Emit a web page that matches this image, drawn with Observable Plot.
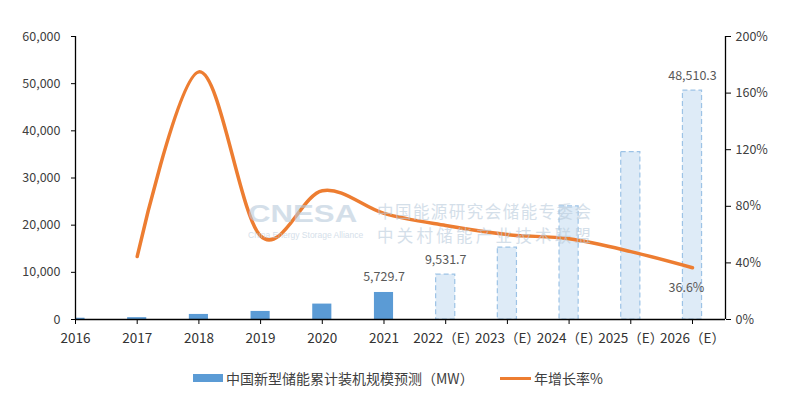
<!DOCTYPE html>
<html><head><meta charset="utf-8">
<script src="https://cdn.jsdelivr.net/npm/d3@7"></script>
<script src="https://cdn.jsdelivr.net/npm/@observablehq/plot@0.6"></script>
<style>
body{margin:0;background:#fff;font-family:"Noto Sans CJK SC","Noto Sans",sans-serif;}
#wrap{position:relative;width:788px;height:394px;overflow:hidden;}
#chart{position:absolute;left:0;top:0;}
.leg{position:absolute;font-size:14px;color:#404040;line-height:16px;white-space:nowrap;}
.sw{position:absolute;}
#wm{position:absolute;left:0;top:0;pointer-events:none;opacity:0.6;}
.wmt{position:absolute;white-space:nowrap;color:#b9cbdc;line-height:1;}
.wmc{position:absolute;color:#b9cbdc;width:214px;font-size:16.5px;line-height:24px;text-align:justify;text-align-last:justify;}
</style></head><body>
<div id="wrap">
  <div id="chart"></div>
  <div class="sw" style="left:193px;top:374px;width:30px;height:8px;background:#5B9BD5"></div>
  <div class="leg" style="left:226px;top:370px;">中国新型储能累计装机规模预测（MW）</div>
  <div class="sw" style="left:500px;top:377px;width:31px;height:3px;background:#ED7D31"></div>
  <div class="leg" style="left:534px;top:370px;">年增长率%</div>
  <div id="wm">
    <div class="wmt" style="left:248px;top:202px;font-size:24px;font-weight:bold;font-family:'Liberation Sans',sans-serif;transform:scaleX(1.3);transform-origin:left top;">CNESA</div>
    <div class="wmt" style="left:248px;top:231px;font-size:8.5px;font-family:'Liberation Sans',sans-serif;">China Energy Storage Alliance</div>
    <div class="wmc" style="left:377px;top:199px;">中国能源研究会储能专委会<br>中关村储能产业技术联盟</div>
  </div>
</div>
<script>
const years = ["2016","2017","2018","2019","2020","2021","2022（E）","2023（E）","2024（E）","2025（E）","2026（E）"];
const capacity = [270, 390, 1073, 1710, 3269, 5729.7, 9531.7, 15250, 24000, 35500, 48510.3];
const growth = [null, 44.5, 175, 59, 91, 75, 66.4, 60, 57, 48, 36.6];
const isForecast = [false,false,false,false,false,false,true,true,true,true,true];
const barLabels = [null,null,null,null,null,"5,729.7","9,531.7",null,null,null,"48,510.3"];
const lineLabels = [null,null,null,null,null,null,null,null,null,null,"36.6%"];
const leftTicks = [0,10000,20000,30000,40000,50000,60000];
const rightTicks = [0,40,80,120,160,200];

const yMax = 60000, rMax = 200, k = yMax / rMax;
const xMax = 10.535, halfBar = 0.155;

const rows = years.map((y,i)=>({i, year:y, v:capacity[i], g:growth[i], f:isForecast[i], bl:barLabels[i], ll:lineLabels[i]}));
const actual = rows.filter(d=>!d.f), fc = rows.filter(d=>d.f);
const gRows = rows.filter(d=>d.g!=null);

const chart = Plot.plot({
  width: 788, height: 356,
  marginLeft: 75, marginRight: 63, marginTop: 36, marginBottom: 37,
  style: {fontFamily: '"Noto Sans CJK SC","Noto Sans",sans-serif', fontSize: "12.5px", color: "#404040", background: "#fff"},
  x: {type: "linear", domain: [0, xMax]},
  y: {domain: [0, yMax]},
  marks: [
    Plot.rectY(actual, {x1: d=>d.i-halfBar, x2: d=>d.i+halfBar, y1: 0, y2: "v", fill: "#5B9BD5", clip: true}),
    Plot.rectY(fc, {x1: d=>d.i-halfBar, x2: d=>d.i+halfBar, y1: 0, y2: "v", fill: "#DEEBF7", stroke: "#9DC3E6", strokeWidth: 1.2, strokeDasharray: "5,3"}),
    Plot.line(gRows, {x: "i", y: d=>d.g*k, stroke: "#ED7D31", strokeWidth: 3.5, curve: "cardinal"}),
    Plot.text(rows.filter(d=>d.bl), {x: "i", y: "v", text: "bl", dy: -15, fill: "#595959", fontSize: 12.5}),
    Plot.text(rows.filter(d=>d.ll), {x: "i", y: d=>d.g*k, text: "ll", dy: 20, dx: -6, fill: "#595959", fontSize: 12.5}),
    Plot.ruleY([0], {stroke: "#000", strokeWidth: 1.3}),
    Plot.ruleX([0], {stroke: "#000", strokeWidth: 1.3}),
    Plot.ruleX([xMax], {stroke: "#000", strokeWidth: 1.3}),
    Plot.axisY(leftTicks, {anchor: "left", label: null, tickSize: 4, tickPadding: 11, tickFormat: d3.format(","), fill: "#404040", stroke: "#000", fontSize: 12.5}),
    Plot.axisY(rightTicks.map(d=>d*k), {anchor: "right", label: null, tickSize: 5, tickPadding: 5, tickFormat: d=>Math.round(d/k)+"%", fill: "#404040", stroke: "#000", fontSize: 12.5}),
    Plot.axisX(d3.range(years.length), {anchor: "bottom", label: null, tickSize: 5, tickPadding: 9, tickFormat: i=>years[i], fill: "#333", stroke: "#000", fontSize: 13.5}),
  ]
});
document.getElementById("chart").appendChild(chart);
</script>
</body></html>
